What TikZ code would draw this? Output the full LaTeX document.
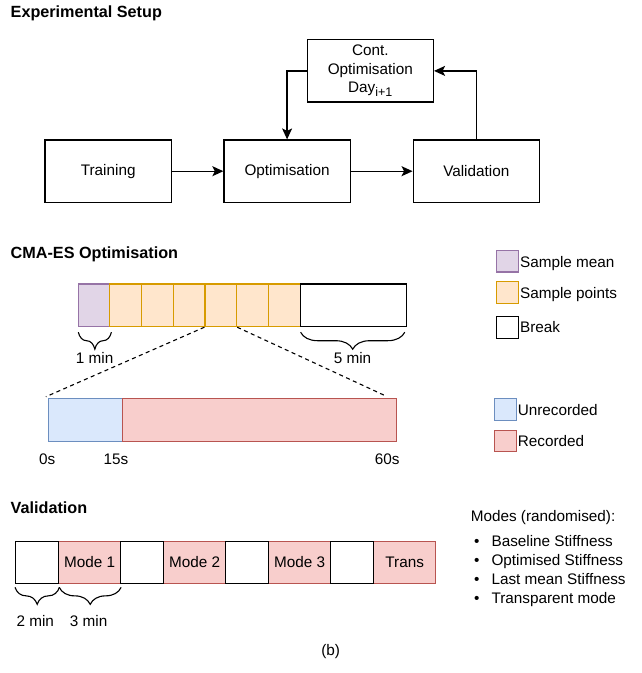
\documentclass[tikz,border=0pt]{standalone}
\usepackage{fontspec}
\setmainfont{Liberation Sans}
\usetikzlibrary{arrows.meta, decorations.pathreplacing}
\definecolor{meanfill}{HTML}{E1D5E7}
\definecolor{meandraw}{HTML}{9673A6}
\definecolor{ptfill}{HTML}{FFE6CC}
\definecolor{ptdraw}{HTML}{D79B00}
\definecolor{unrecfill}{HTML}{DAE8FC}
\definecolor{unrecdraw}{HTML}{6C8EBF}
\definecolor{recfill}{HTML}{F8CECC}
\definecolor{recdraw}{HTML}{B85450}
\tikzset{
  flowbox/.style={draw, line width=1.3pt, minimum width=126.2pt, minimum height=62.3pt, align=center, inner sep=0pt},
  cell/.style n args={3}{draw=#1, fill=#2, line width=1.1pt, minimum width=#3, minimum height=42.7pt, inner sep=0pt, anchor=west},
  legbox/.style 2 args={draw=#1, fill=#2, line width=1.1pt, minimum width=21.7pt, minimum height=21.7pt, inner sep=0pt},
  legtext/.style={anchor=base west, inner sep=1pt},
  timebrace/.style={decorate, decoration={brace, mirror, amplitude=17pt}, line width=1.1pt},
  flowarrow/.style={-{Stealth[length=11pt, width=10pt, inset=2.5pt]}, line width=1.3pt},
  zoomline/.style={dash pattern=on 4pt off 3.5pt, line width=1.1pt},
  sectitle/.style={anchor=base west, inner sep=0pt, font=\fontsize{16.2}{19}\selectfont\bfseries},
}

\begin{document}
\begin{tikzpicture}[x=1pt, y=-1pt, font=\fontsize{15.3}{19}\selectfont]
  \useasboundingbox (0,0) rectangle (641,673);
  % experimental setup
  \node[sectitle] (setup) at (10.5,17.3) {Experimental Setup};
  \node[flowbox] (train) at (108.2,171.2) {Training};
  \node[flowbox] (opt) at (287.1,171.2) {Optimisation};
  \node[flowbox] (val) at (476.3,171.2) {Validation};
  \node[flowbox, minimum height=62.3pt, font=\fontsize{15.3}{18.3}\selectfont] (cont) at (370.3,70.9)
    {Cont.\\Optimisation\\Day\raisebox{-4pt}{\fontsize{12.5}{14}\selectfont i+1}};
  \draw[flowarrow] (train) -- (opt);
  \draw[flowarrow] (opt) -- (val);
  \draw[flowarrow] (cont.west) -| (opt.north);
  \draw[flowarrow] (val.north) |- (cont.east);

  % cma-es
  \node[sectitle] (cmaes) at (10.5,258.3) {CMA-ES Optimisation};
  \node[cell={meandraw}{meanfill}{31pt}] (mean) at (78.3,305.3) {};
  \foreach \i in {1,...,6}
    \node[cell={ptdraw}{ptfill}{31.7pt}] (pt\i) at ({109.3+(\i-1)*31.7},305.3) {};
  \node[cell={black}{white}{106.1pt}] (break) at (299.6,305.3) {};
  \draw[timebrace] ([yshift=-5pt]mean.south west) -- ([yshift=-5pt,xshift=1pt]mean.south east);
  \node (onemin) at (94.7,358) {1 min};
  \draw[timebrace] ([yshift=-5pt,xshift=1pt]break.south west) -- ([yshift=-5pt,xshift=-2pt]break.south east);
  \node (fivemin) at (352.5,358) {5 min};
  \coordinate (zoomleft) at (45.9,396.7);
  \coordinate (zoomright) at (385.2,395.7);
  \draw[zoomline] (pt4.south west) -- (zoomleft);
  \draw[zoomline] (pt4.south east) -- (zoomright);
  \node[cell={unrecdraw}{unrecfill}{73.4pt}] (unrec) at (48.3,419.7) {};
  \node[cell={recdraw}{recfill}{273.8pt}] (rec) at (121.7,419.7) {};
  \node (zero) at (47.1,459.3) {0s};
  \node (fifteen) at (115.9,459.3) {15s};
  \node (sixty) at (387.3,459.3) {60s};

  % legend
  \node[legbox={meandraw}{meanfill}] (legmean) at (507.5,261.1) {};
  \node[legtext] (legmeantxt) at ([yshift=-6.2pt]legmean.east) {Sample mean};
  \node[legbox={ptdraw}{ptfill}] (legpt) at (507.5,292.5) {};
  \node[legtext] (legpttxt) at ([yshift=-5.8pt]legpt.east) {Sample points};
  \node[legbox={black}{white}] (legbreak) at (507.5,327.2) {};
  \node[legtext] (legbreaktxt) at ([yshift=-5.5pt]legbreak.east) {Break};
  \node[legbox={unrecdraw}{unrecfill}] (legunrec) at (505.2,409.2) {};
  \node[legtext] (legunrectxt) at ([yshift=-5.8pt]legunrec.east) {Unrecorded};
  \node[legbox={recdraw}{recfill}] (legrec) at (505.2,440.9) {};
  \node[legtext] (legrectxt) at ([yshift=-5.8pt]legrec.east) {Recorded};

  % validation
  \node[sectitle] (valtitle) at (10.5,513) {Validation};
  \foreach \lbl [count=\i] in {Mode 1, Mode 2, Mode 3, Trans}
    \node[cell={recdraw}{recfill}{61.7pt}, minimum height=41.6pt] (mode\i) at ({58.3+(\i-1)*105},562.5) {\lbl};
  \foreach \i in {1,...,4}
    \node[cell={black}{white}{43.3pt}, minimum height=41.6pt] (pause\i) at ({15+(\i-1)*105},562.5) {};
  \draw[timebrace] ([yshift=-3.5pt]pause1.south west) -- ([yshift=-3.5pt]pause1.south east);
  \draw[timebrace] ([yshift=-3.5pt,xshift=1pt]mode1.south west) -- ([yshift=-3.5pt]mode1.south east);
  \node (twomin) at (35.3,621.2) {2 min};
  \node (threemin) at (88.7,621.2) {3 min};
  \node[anchor=base west, inner sep=0pt] (modes) at (470.6,521) {Modes (randomised):};
  \foreach \txt [count=\i] in {Baseline Stiffness, Optimised Stiffness, Last mean Stiffness, Transparent mode}
    \node[anchor=base west, inner sep=0pt] (item\i) at (474,{527.8+\i*18.87}) {\textbullet\hspace{12pt}\txt};
  \node (caption) at (330.7,651.7) {(b)};
\end{tikzpicture}
\end{document}
